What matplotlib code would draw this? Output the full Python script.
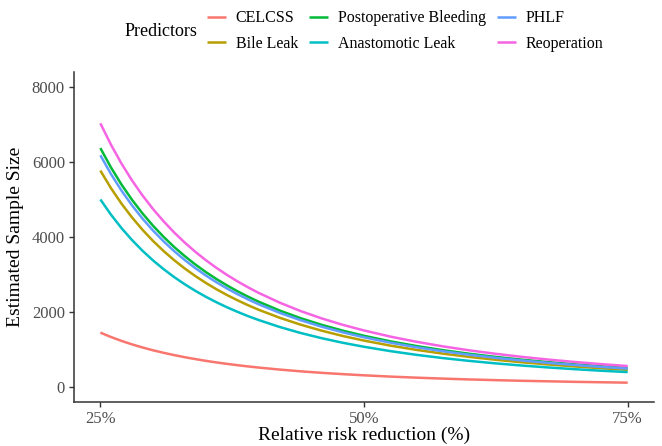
from matplotlib import pyplot as plt
import numpy as np

# relative risk reduction (%)
rrr = [25, 26, 27, 28, 29, 30, 31, 32, 33, 34, 35, 36, 37, 38, 39, 40,
       42, 44, 46, 48, 50, 52.5, 55, 57.5, 60, 62.5, 65, 67.5, 70, 72.5, 75]

celcss = [1450, 1333, 1229, 1136, 1053, 978, 911, 850, 794, 744, 697, 655, 617, 581, 548, 518,
          464, 417, 377, 342, 311, 277, 248, 223, 201, 182, 165, 151, 137, 126, 115]
bile_leak = [5770, 5304, 4890, 4521, 4190, 3892, 3624, 3381, 3160, 2959, 2775, 2607, 2453, 2312, 2181, 2060,
             1846, 1661, 1500, 1359, 1237, 1103, 988, 888, 801, 725, 658, 600, 547, 500, 458]
postop_bleeding = [6370, 5856, 5399, 4991, 4626, 4297, 4001, 3732, 3489, 3267, 3064, 2879, 2709, 2552, 2408, 2275,
                   2038, 1833, 1656, 1501, 1365, 1217, 1091, 980, 885, 801, 727, 662, 604, 552, 506]
anastomotic_leak = [5000, 4597, 4238, 3918, 3631, 3373, 3141, 2930, 2739, 2565, 2405, 2260, 2126, 2004, 1890, 1786,
                    1600, 1439, 1300, 1178, 1072, 956, 856, 770, 695, 629, 571, 520, 474, 433, 397]
phlf = [6180, 5681, 5238, 4842, 4488, 4169, 3882, 3621, 3385, 3170, 2973, 2793, 2628, 2476, 2336, 2207,
        1977, 1779, 1606, 1456, 1324, 1181, 1058, 951, 858, 777, 705, 642, 586, 535, 491]
reoperation = [7030, 6463, 5958, 5508, 5105, 4742, 4416, 4119, 3850, 3606, 3381, 3177, 2989, 2817, 2657, 2510,
               2249, 2023, 1827, 1656, 1507, 1343, 1204, 1082, 976, 884, 802, 730, 666, 609, 558]

labels = ['CELCSS', 'Bile Leak', 'Postoperative Bleeding',
          'Anastomotic Leak', 'PHLF', 'Reoperation']
series = [celcss, bile_leak, postop_bleeding, anastomotic_leak, phlf, reoperation]
colors = ['#F8766D', '#B79F00', '#00BA38', '#00BFC4', '#619CFF', '#F564E3']

x_ticks = [25, 50, 75]
x_ticklabels = ['25%', '50%', '75%']
y_ticks = [0, 2000, 4000, 6000, 8000]

plt.rcParams['font.family'] = ['Liberation Serif', 'DejaVu Serif']

fig = plt.figure(figsize=(6.62, 4.46), dpi=100)
ax = fig.add_axes([0.1118, 0.0987, 0.988 - 0.1118, 0.8386 - 0.0987])

for i in range(len(labels)):
    ax.plot(rrr, series[i], color=colors[i], linewidth=1.8, label=labels[i],
            solid_capstyle='butt')

ax.set_xlim(22.5, 77.5)
ax.set_ylim(-400, 8400)
ax.set_xticks(x_ticks)
ax.set_xticklabels(x_ticklabels)
ax.set_yticks(y_ticks)

for side in ['top', 'right']:
    ax.spines[side].set_visible(False)
for side in ['left', 'bottom']:
    ax.spines[side].set_color('#333333')
    ax.spines[side].set_linewidth(1.1)
ax.tick_params(axis='both', colors='#333333', labelcolor='#4D4D4D',
               labelsize=12, length=3.5, width=1.0, pad=3)

ax.set_xlabel('Relative risk reduction (%)', fontsize=14, labelpad=0)
ax.set_ylabel('Estimated Sample Size', fontsize=14, labelpad=6)

fig.text(125 / 662, 1 - 31 / 446, 'Predictors', fontsize=13, va='center')
fig.legend(loc='center left', bbox_to_anchor=(207 / 662, 1 - 31 / 446), ncol=3,
           frameon=False, fontsize=11.5, handlelength=1.2, handletextpad=0.6,
           columnspacing=0.7, labelspacing=0.6, borderpad=0, borderaxespad=0)

fig.savefig('out.png', dpi=100)
